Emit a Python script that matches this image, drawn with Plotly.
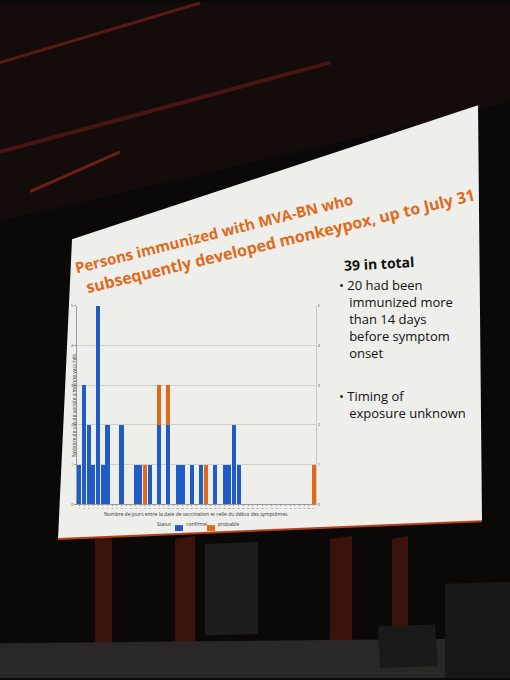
import plotly.graph_objects as go

# days between vaccination and symptom onset (x axis 1..51)
days = list(range(1, 52))

confirmed_days = [1, 2, 3, 4, 5, 6, 7, 10, 13, 14, 16, 18, 20, 22, 23, 25, 27, 30, 32, 33, 34, 35]
confirmed_counts = [1, 3, 2, 1, 5, 1, 2, 2, 1, 1, 1, 2, 2, 1, 1, 1, 1, 1, 1, 1, 2, 1]

probable_days = [15, 18, 20, 28, 51]
probable_counts = [1, 1, 1, 1, 1]

y_ticks = [0, 1, 2, 3, 4, 5]

title_lines = ["Persons immunized with MVA-BN who",
               "subsequently developed monkeypox, up to July 31"]
side_head = "39 in total"
side_bullets = ["• 20 had been<br>   immunized more<br>   than 14 days<br>   before symptom<br>   onset",
                "• Timing of<br>   exposure unknown"]
legend_title = "Statut"
legend_names = ["confirmé", "probable"]

W, H = 510, 680
blue = "#1f5cc8"
orange = "#e06a1c"
slide = "#eeefea"


def px(x, y):
	# pixel position in the window -> paper coordinates
	return x / W, 1 - y / H


def quad(points, fill):
	path = "M " + " L ".join("%.4f,%.4f" % px(*p) for p in points) + " Z"
	return dict(type="path", path=path, xref="paper", yref="paper", fillcolor=fill,
	            line=dict(width=0), layer="below")


fig = go.Figure()
fig.add_trace(go.Bar(x=confirmed_days, y=confirmed_counts, name=legend_names[0], marker_color=blue,
                     marker_line_width=0, showlegend=False))
fig.add_trace(go.Bar(x=probable_days, y=probable_counts, name=legend_names[1], marker_color=orange,
                     marker_line_width=0, showlegend=False))
# invisible helper so the right-hand axis is drawn
fig.add_trace(go.Scatter(x=[days[0]], y=[0], yaxis="y2", mode="markers", marker_opacity=0,
                         showlegend=False, hoverinfo="skip"))

shapes = []
# stage surroundings (rough)
shapes.append(quad([(0, 0), (510, 0), (510, 100), (0, 220)], "#140c0b"))
shapes.append(dict(type="line", xref="paper", yref="paper", x0=0, y0=px(0, 60)[1], x1=px(200, 0)[0], y1=1,
                   line=dict(color="#5a1a12", width=3), layer="below"))
shapes.append(dict(type="line", xref="paper", yref="paper", x0=0, y0=px(0, 150)[1], x1=px(330, 60)[0],
                   y1=px(330, 60)[1], line=dict(color="#4a1510", width=4), layer="below"))
shapes.append(dict(type="line", xref="paper", yref="paper", x0=px(30, 190)[0], y0=px(30, 190)[1],
                   x1=px(120, 150)[0], y1=px(120, 150)[1], line=dict(color="#6a2014", width=3), layer="below"))
for x_a, x_b in [(95, 112), (175, 195), (330, 352), (392, 408)]:
	shapes.append(quad([(x_a, 540), (x_b, 537), (x_b, 645), (x_a, 645)], "#3a130d"))
shapes.append(quad([(0, 645), (510, 640), (510, 680), (0, 680)], "#2a2826"))
shapes.append(quad([(205, 545), (258, 543), (258, 636), (205, 637)], "#1c1c1c"))
shapes.append(quad([(378, 628), (435, 626), (438, 668), (380, 670)], "#1a1a1a"))
shapes.append(quad([(445, 585), (510, 583), (510, 680), (445, 680)], "#171717"))

# the projection screen
shapes.append(quad([(72, 238), (478, 103), (482, 522), (58, 540)], slide))
shapes.append(dict(type="line", xref="paper", yref="paper", x0=px(58, 540)[0], y0=px(58, 540)[1],
                   x1=px(482, 522)[0], y1=px(482, 522)[1], line=dict(color="#b5401f", width=2),
                   layer="below"))

x0, y0 = px(77, 505)
x1, y1 = px(316, 305)

annotations = []
# slide title, tilted as on the photo
t1x, t1y = px(214, 232)
t2x, t2y = px(280, 240)
annotations.append(dict(text="<b>" + title_lines[0] + "</b>", x=t1x, y=t1y, xref="paper", yref="paper",
                        showarrow=False, textangle=-14, font=dict(family="Open Sans", size=15, color=orange)))
annotations.append(dict(text="<b>" + title_lines[1] + "</b>", x=t2x, y=t2y, xref="paper", yref="paper",
                        showarrow=False, textangle=-13.5, font=dict(family="Open Sans", size=16, color=orange)))
# right-hand text
hx, hy = px(341, 262)
annotations.append(dict(text="<b>" + side_head + "</b>", x=hx, y=hy, xref="paper", yref="paper",
                        xanchor="left", showarrow=False, textangle=-3,
                        font=dict(family="Open Sans", size=14, color="#111111")))
bx, by = px(338, 318)
annotations.append(dict(text=side_bullets[0], x=bx, y=by, xref="paper", yref="paper", xanchor="left",
                        align="left", showarrow=False, borderpad=0,
                        font=dict(family="Open Sans", size=13, color="#111111")))
cx, cy = px(338, 404)
annotations.append(dict(text=side_bullets[1], x=cx, y=cy, xref="paper", yref="paper", xanchor="left",
                        align="left", showarrow=False, borderpad=0,
                        font=dict(family="Open Sans", size=13, color="#111111")))
# axis titles (tiny on the slide)
ax, ay = px(196, 519)
annotations.append(dict(text="Nombre de jours entre la date de vaccination et celle du début des symptômes",
                        x=ax, y=ay, xref="paper", yref="paper", showarrow=False, borderpad=0,
                        font=dict(family="Open Sans", size=5, color="#333333")))
vx, vy = px(70, 405)
annotations.append(dict(text="Nombre de cas de variole simienne vaccinés", x=vx, y=vy, xref="paper",
                        yref="paper", showarrow=False, textangle=-90, borderpad=0,
                        font=dict(family="Open Sans", size=5, color="#333333")))

# small legend under the axis title: swatches + labels
lg_y = 529
annotations.append(dict(text=legend_title, x=px(172, lg_y)[0], y=px(172, lg_y)[1], xref="paper",
                        yref="paper", xanchor="right", showarrow=False, borderpad=0,
                        font=dict(family="Open Sans", size=5, color="#333333")))
for i, (name, col) in enumerate(zip(legend_names, [blue, orange])):
	sx = 175 + i * 32
	shapes.append(dict(type="rect", xref="paper", yref="paper", x0=px(sx, 0)[0], x1=px(sx + 8, 0)[0],
	                   y0=px(0, lg_y + 3)[1], y1=px(0, lg_y - 3)[1], fillcolor=col, line=dict(width=0)))
	annotations.append(dict(text=name, x=px(sx + 10, lg_y)[0], y=px(sx, lg_y)[1], xref="paper",
	                        yref="paper", xanchor="left", showarrow=False, borderpad=0,
	                        font=dict(family="Open Sans", size=5, color="#333333")))

fig.update_layout(
	width=W, height=H, autosize=False,
	margin=dict(l=0, r=0, t=0, b=0),
	paper_bgcolor="#0b0808", plot_bgcolor=slide,
	barmode="stack", bargap=0.12,
	shapes=shapes, annotations=annotations,
	showlegend=False,
	xaxis=dict(domain=[x0, x1], range=[0.5, 51.5], tickmode="array", tickvals=days, tickangle=0,
	           tickfont=dict(size=2.5, color="#555555"), showgrid=False, showline=True,
	           linecolor="#9a9a9a", linewidth=1, ticks="outside", ticklen=1, tickcolor="#9a9a9a",
	           fixedrange=True),
	yaxis=dict(domain=[y0, y1], range=[0, 5], tickvals=y_ticks, tickfont=dict(size=4, color="#555555"),
	           showgrid=True, gridcolor="#cfcfcc", gridwidth=1, zeroline=False, showline=True,
	           linecolor="#9a9a9a", ticks="outside", ticklen=2, tickcolor="#9a9a9a"),
	yaxis2=dict(overlaying="y", side="right", range=[0, 5], tickvals=y_ticks,
	            tickfont=dict(size=4, color="#555555"), showgrid=False, showline=True,
	            linecolor="#c8c8c4", zeroline=False),
)

# no page margin so the figure fills the 510x680 window
fig.write_html("out.html", config={"displayModeBar": False},
               post_script="document.body.style.margin='0px';document.body.style.overflow='hidden';")
